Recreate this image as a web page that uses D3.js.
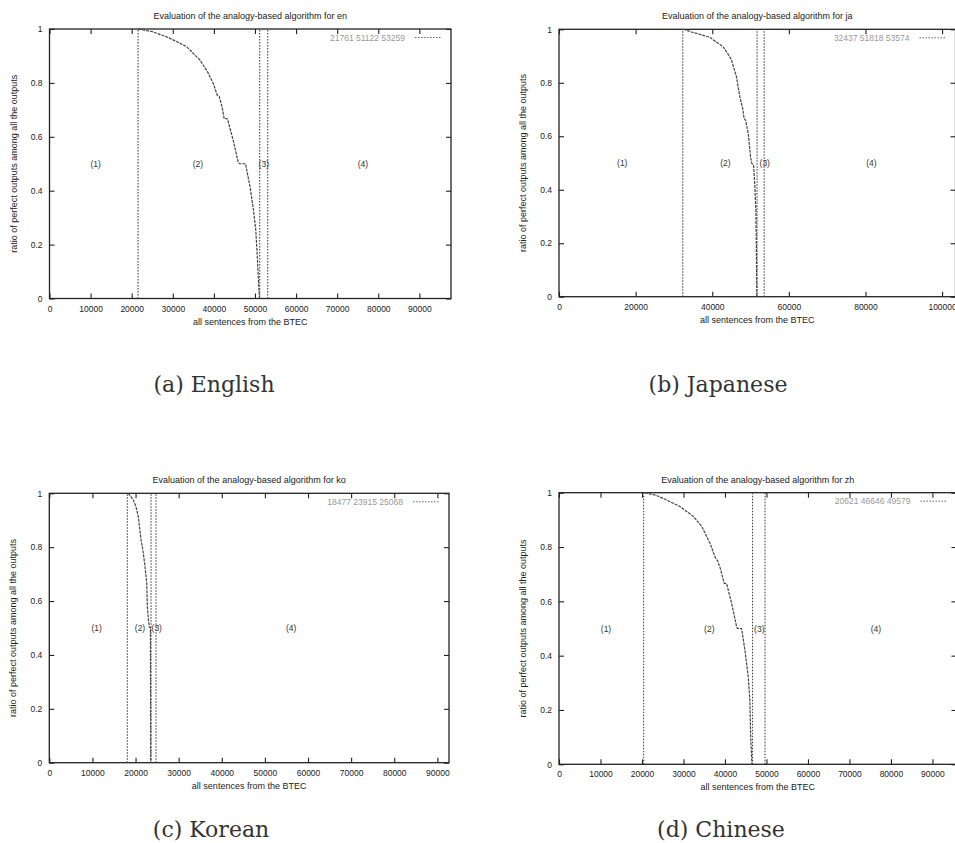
<!DOCTYPE html>
<html>
<head>
<meta charset="utf-8">
<script src="https://cdn.jsdelivr.net/npm/d3@7"></script>
<style>
  body { margin: 0; background: #fff; }
  svg { display: block; }
</style>
</head>
<body>
<div id="chart"></div>
<script>
// ---- values ----
var langs = ['en', 'ja', 'ko', 'zh'];
var captions = ['(a) English', '(b) Japanese', '(c) Korean', '(d) Chinese'];
var legendTexts = ['21761 51122 53259', '32437 51818 53574', '18477 23915 25068', '20621 46646 49579'];
var xMax = [97700, 103500, 92700, 95800];
var xTickStep = [10000, 20000, 10000, 10000];
var yTicks = [0, 0.2, 0.4, 0.6, 0.8, 1];
var regionNames = ['(1)', '(2)', '(3)', '(4)'];

// borders of the four regions (dotted vertical lines)
var enCuts = [21550, 51150, 53100];
var jaCuts = [32300, 51700, 53550];
var koCuts = [18100, 23600, 24750];
var zhCuts = [20400, 46650, 49650];

// x position of the region labels (y = 0.5)
var enRegionX = [11240, 36130, 52150, 76280];
var jaRegionX = [16510, 43460, 53710, 81540];
var koRegionX = [11000, 21040, 24920, 56080];
var zhRegionX = [11330, 36220, 48270, 76390];

// ratio of perfect outputs, [sentence rank, ratio]
var enCurve = [[21600, 1.0], [25000, 0.99], [28500, 0.971], [31000, 0.953], [33400, 0.934], [36600, 0.885],
  [38500, 0.84], [39850, 0.798], [40800, 0.755], [41300, 0.75], [42000, 0.71], [42500, 0.668], [43300, 0.667],
  [44700, 0.587], [45900, 0.507], [46200, 0.5], [47700, 0.5], [48800, 0.414], [49600, 0.333], [50200, 0.253],
  [50550, 0.16], [50900, 0.05], [51100, 0]];
var jaCurve = [[32400, 1.0], [34600, 0.99], [37000, 0.98], [39400, 0.97], [41000, 0.953], [42800, 0.935],
  [44000, 0.91], [45000, 0.886], [46300, 0.824], [47200, 0.748], [48000, 0.7], [48300, 0.667], [48700, 0.66],
  [49400, 0.61], [50000, 0.524], [50300, 0.5], [50800, 0.49], [51100, 0.42], [51400, 0.32], [51550, 0.15], [51650, 0]];
var koCurve = [[18300, 1.0], [18800, 0.99], [19500, 0.975], [20100, 0.95], [20650, 0.913], [21280, 0.827],
  [21700, 0.79], [22200, 0.728], [22600, 0.666], [22740, 0.579], [23000, 0.53], [23200, 0.505], [23450, 0.5], [23520, 0]];
var zhCurve = [[20700, 1.0], [23500, 0.99], [25950, 0.973], [29160, 0.949], [32370, 0.913], [34390, 0.876],
  [36390, 0.814], [37700, 0.76], [38200, 0.75], [38900, 0.72], [39800, 0.667], [40400, 0.665], [41600, 0.593],
  [42800, 0.507], [43000, 0.5], [44000, 0.5], [44800, 0.421], [45600, 0.323], [46000, 0.237], [46200, 0.1], [46500, 0]];

var cuts = [enCuts, jaCuts, koCuts, zhCuts];
var regionX = [enRegionX, jaRegionX, koRegionX, zhRegionX];
var curves = [enCurve, jaCurve, koCurve, zhCurve];

// ---- layout of the page ----
var W = 955, H = 843;
var frames = [
  {left: 49.5, right: 451, top: 29, bottom: 298.5, capX: 214, capY: 392},
  {left: 559, right: 955.5, top: 29.3, bottom: 296.7, capX: 718, capY: 392},
  {left: 49.3, right: 449, top: 493.3, bottom: 762.7, capX: 211, capY: 836.5},
  {left: 559, right: 956.5, top: 492.7, bottom: 764.3, capX: 721, capY: 836.5}
];
var sans = '"Liberation Sans", Arial, sans-serif';
var ink = '#222';

var svg = d3.select('#chart').append('svg')
  .attr('width', W)
  .attr('height', H);

svg.append('rect').attr('width', W).attr('height', H).style('fill', '#fff');

function drawPanel(i) {
  var f = frames[i];
  var g = svg.append('g').attr('class', 'panel-' + langs[i]);

  var x = d3.scaleLinear().domain([0, xMax[i]]).range([f.left, f.right]);
  var y = d3.scaleLinear().domain([0, 1]).range([f.bottom, f.top]);
  var xTicks = d3.range(0, xMax[i] + 1, xTickStep[i]);
  var fmtY = function(d) { return d === 0 || d === 1 ? String(d) : d.toFixed(1); };

  // axes: labels outside, ticks inward (mirrored like gnuplot)
  var xAxis = g.append('g')
    .attr('transform', 'translate(0,' + f.bottom + ')')
    .call(d3.axisBottom(x).tickValues(xTicks).tickFormat(d3.format('d')).tickSize(-5).tickPadding(7));
  var xTop = g.append('g')
    .attr('transform', 'translate(0,' + f.top + ')')
    .call(d3.axisTop(x).tickValues(xTicks).tickFormat('').tickSize(-5));
  var yAxis = g.append('g')
    .attr('transform', 'translate(' + f.left + ',0)')
    .call(d3.axisLeft(y).tickValues(yTicks).tickFormat(fmtY).tickSize(-5).tickPadding(7));
  var yRight = g.append('g')
    .attr('transform', 'translate(' + f.right + ',0)')
    .call(d3.axisRight(y).tickValues(yTicks).tickFormat('').tickSize(-5));

  [xAxis, xTop, yAxis, yRight].forEach(function(a) {
    a.select('.domain').remove();
    a.selectAll('line').style('stroke', ink).style('stroke-width', 1.1);
    a.selectAll('text')
      .style('font-family', sans)
      .style('font-size', '8.5px')
      .style('fill', ink);
  });

  // frame
  g.append('rect')
    .attr('x', f.left)
    .attr('y', f.top)
    .attr('width', f.right - f.left)
    .attr('height', f.bottom - f.top)
    .style('fill', 'none')
    .style('stroke', ink)
    .style('stroke-width', 1.3);

  // title
  g.append('text')
    .attr('x', (f.left + f.right) / 2)
    .attr('y', f.top - 10)
    .attr('text-anchor', 'middle')
    .style('font-family', sans)
    .style('font-size', '9px')
    .style('fill', ink)
    .text('Evaluation of the analogy-based algorithm for ' + langs[i]);

  // axis titles
  g.append('text')
    .attr('x', (f.left + f.right) / 2)
    .attr('y', f.bottom + 26)
    .attr('text-anchor', 'middle')
    .style('font-family', sans)
    .style('font-size', '9px')
    .style('fill', ink)
    .text('all sentences from the BTEC');

  g.append('text')
    .attr('transform', 'translate(' + (f.left - 33) + ',' + (f.top + f.bottom) / 2 + ') rotate(-90)')
    .attr('text-anchor', 'middle')
    .style('font-family', sans)
    .style('font-size', '9px')
    .style('fill', ink)
    .text('ratio of perfect outputs among all the outputs');

  // dotted region borders
  g.selectAll('line.cut')
    .data(cuts[i])
    .enter().append('line')
    .attr('class', 'cut')
    .attr('x1', function(d) { return x(d); })
    .attr('x2', function(d) { return x(d); })
    .attr('y1', y(0))
    .attr('y2', y(1))
    .style('stroke', '#444')
    .style('stroke-width', 1.1)
    .style('stroke-dasharray', '1.5,1.5');

  // curve
  var line = d3.line()
    .x(function(d) { return x(d[0]); })
    .y(function(d) { return y(d[1]); });

  g.append('path')
    .datum(curves[i])
    .attr('d', line)
    .style('fill', 'none')
    .style('stroke', '#444')
    .style('stroke-width', 1.2)
    .style('stroke-dasharray', '3,1');

  // region labels
  g.selectAll('text.region')
    .data(regionX[i])
    .enter().append('text')
    .attr('class', 'region')
    .attr('x', function(d) { return x(d); })
    .attr('y', y(0.5) + 3)
    .attr('text-anchor', 'middle')
    .style('font-family', sans)
    .style('font-size', '8.5px')
    .style('fill', '#333')
    .text(function(d, k) { return regionNames[k]; });

  // legend (faint in the scan)
  var ly = f.top + 8.5;
  g.append('text')
    .attr('x', f.right - 46)
    .attr('y', ly + 3)
    .attr('text-anchor', 'end')
    .style('font-family', sans)
    .style('font-size', '8.5px')
    .style('fill', '#999')
    .text(legendTexts[i]);
  g.append('line')
    .attr('x1', f.right - 36)
    .attr('x2', f.right - 9)
    .attr('y1', ly)
    .attr('y2', ly)
    .style('stroke', '#666')
    .style('stroke-width', 1)
    .style('stroke-dasharray', '1.5,1.5');

  // caption under the panel
  svg.append('text')
    .attr('x', f.capX)
    .attr('y', f.capY)
    .attr('text-anchor', 'middle')
    .style('font-family', '"DejaVu Serif", serif')
    .style('font-size', '22px')
    .style('fill', '#333')
    .text(captions[i]);
}

for (var i = 0; i < langs.length; i++) {
  drawPanel(i);
}
</script>
</body>
</html>
